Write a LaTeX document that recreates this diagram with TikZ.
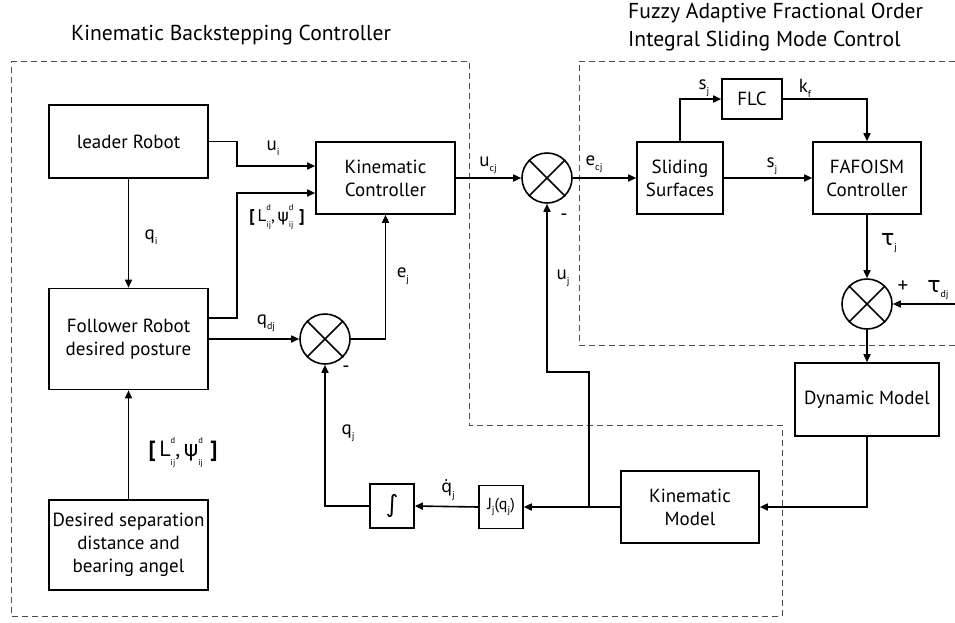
\documentclass[tikz,border=0pt]{standalone}
\usepackage{fontspec}
\setmainfont{PT Sans}
\newfontfamily\symfam{DejaVu Sans}
\usetikzlibrary{arrows.meta}

% subscript / stacked super-subscript helpers
\newcommand\lowidx[1]{\raisebox{-0.55ex}{\fontsize{10}{10}\selectfont #1}}
\newcommand\supsub[2]{\makebox[0pt][l]{\raisebox{1.25ex}{\fontsize{8.5}{8.5}\selectfont #1}}\raisebox{-0.75ex}{\fontsize{8.5}{8.5}\selectfont #2}}
\newcommand\grk[1]{{\symfam #1}}
\newcommand\bigbr[1]{{\fontsize{27}{27}\selectfont\textbf{#1}}}

\tikzset{
  blk/.style={draw, line width=1.6pt, inner sep=0pt, align=center,
              font=\fontsize{19}{23}\selectfont},
  sumj/.style={draw, circle, line width=1.6pt, minimum size=50pt, inner sep=0pt},
  arr/.style={line width=1.6pt, -{Triangle[length=8pt,width=7pt]}},
  wire/.style={line width=1.6pt},
  lbl/.style={inner sep=0pt, font=\fontsize{19}{21}\selectfont},
  region/.style={draw=black!70, line width=0.9pt, dash pattern=on 6pt off 4pt},
  ttl/.style={inner sep=0pt, font=\fontsize{21.6}{28}\selectfont}
}

\begin{document}
\begin{tikzpicture}[x=1pt,y=-1pt]
\useasboundingbox (0,0) rectangle (955,622);

% group frames
\draw[region] (11,61) -- (469,61) -- (469,425) -- (782,425) -- (782,616) -- (11,616) -- cycle;
\draw[region] (955,61) -- (579,61) -- (579,345) -- (955,345);

% titles
\node[ttl] (t1) at (231,35) {Kinematic Backstepping Controller};
\node[ttl, anchor=west, align=left] (t2) at (628,27) {Fuzzy Adaptive Fractional Order\\Integral Sliding Mode Control};

% blocks
\node[blk, minimum width=159pt, minimum height=73pt] (leader) at (128.5,141.5) {leader Robot};
\node[blk, minimum width=159pt, minimum height=101pt] (fol) at (128.5,339) {Follower Robot\\desired posture};
\node[blk, minimum width=159pt, minimum height=90pt] (des) at (128.5,545) {Desired separation\\distance and\\bearing angel};
\node[blk, minimum width=139pt, minimum height=72pt] (kc) at (385.5,178) {Kinematic\\Controller};
\node[blk, minimum width=86pt, minimum height=72pt] (ss) at (680,178) {Sliding\\Surfaces};
\node[blk, minimum width=60pt, minimum height=40pt] (flc) at (752,99) {FLC};
\node[blk, minimum width=108pt, minimum height=72pt] (faf) at (867,178) {FAFOISM\\Controller};
\node[blk, minimum width=144pt, minimum height=73pt] (dyn) at (867,399.5) {Dynamic Model};
\node[blk, minimum width=138pt, minimum height=72pt] (km) at (690,507) {Kinematic\\Model};
\node[blk, minimum width=44pt, minimum height=43pt, font=\fontsize{16}{18}\selectfont] (jac) at (501,507) {J\lowidx{j}(q\lowidx{j})};
\node[blk, minimum width=44pt, minimum height=44pt, font=\symfam\fontsize{24}{26}\selectfont] (int) at (392,506) {∫};

% summing junctions
\foreach \n/\p in {s1/{(325,339)}, s2/{(547,178)}, s3/{(867,304)}} {
  \node[sumj] (\n) at \p {};
  \draw[wire] (\n.north east) -- (\n.south west);
  \draw[wire] (\n.north west) -- (\n.south east);
}

% external input and branch point
\coordinate (tdin) at (955,304);
\coordinate (br) at (589,507);

% connectors
\draw[arr] (leader.east) -- ++(28,0) |- ([yshift=12pt]kc.west);
\draw[arr] ([yshift=21pt]fol.east) -- ++(28,0) |- ([yshift=-15pt]kc.west);
\draw[arr] (leader.south) -- (fol.north);
\draw[arr] (des.north) -- (fol.south);
\draw[arr] (fol.east) -- (s1.west);
\draw[arr] (s1.east) -| (kc.south);
\draw[arr] (int.west) -| (s1.south);
\draw[arr] (jac.west) -- (int.east);
\draw[arr] (km.west) -- (jac.east);
\draw[arr] (br) -- (589,372) -| (s2.south);
\draw[arr] (kc.east) -- (s2.west);
\draw[arr] (s2.east) -- (ss.west);
\draw[arr] (ss.north) |- (flc.west);
\draw[arr] (ss.east) -- (faf.west);
\draw[arr] (flc.east) -| (faf.north);
\draw[arr] (faf.south) -- (s3.north);
\draw[arr] (tdin) -- (s3.east);
\draw[arr] (s3.south) -- (dyn.north);
\draw[arr] (dyn.south) |- (km.east);

% signal labels
\node[lbl] (l-ui) at (273,148) {u\lowidx{i}};
\node[lbl, font=\fontsize{17}{19}\selectfont] (l-L1) at (277,217) {\textbf{[}\,L\supsub{d}{ij},\,\grk{ψ}\supsub{d}{ij}\,\,\textbf{]}};
\node[lbl] (l-qi) at (151,237) {q\lowidx{i}};
\node[lbl] (l-qdj) at (266,323) {q\lowidx{dj}};
\node[lbl] (l-ej) at (403,276) {e\lowidx{j}};
\node[lbl, font=\fontsize{20}{22}\selectfont] (m1) at (346,369) {-};
\node[lbl] (l-qj) at (348,433) {q\lowidx{j}};
\node[lbl] (l-qdot) at (448,490) {{\symfam\fontsize{17}{19}\selectfont q̇}\lowidx{j}};
\node[lbl] (l-uj) at (563,278) {u\lowidx{j}};
\node[lbl, font=\fontsize{20}{22}\selectfont] (m2) at (564,217) {-};
\node[lbl] (l-ucj) at (488,165) {u\lowidx{cj}};
\node[lbl] (l-ecj) at (594,164) {e\lowidx{cj}};
\node[lbl] (l-sj1) at (704,88) {s\lowidx{j}};
\node[lbl] (l-sj2) at (772,166) {s\lowidx{j}};
\node[lbl] (l-kf) at (805,88) {k\lowidx{f}};
\node[lbl] (l-tj) at (889,243) {\grk{\fontsize{22}{22}\selectfont τ}\lowidx{j}};
\node[lbl, font=\fontsize{21}{22}\selectfont] (pl) at (903,287) {+};
\node[lbl] (l-tdj) at (938,290) {\grk{\fontsize{22}{22}\selectfont τ}\lowidx{dj}};
\node[lbl, font=\fontsize{22}{24}\selectfont] (l-L2) at (183,452) {\textbf{[}\,L\supsub{d}{ij},\,\grk{ψ}\supsub{d}{ij}\,\,\textbf{]}};
\end{tikzpicture}
\end{document}
